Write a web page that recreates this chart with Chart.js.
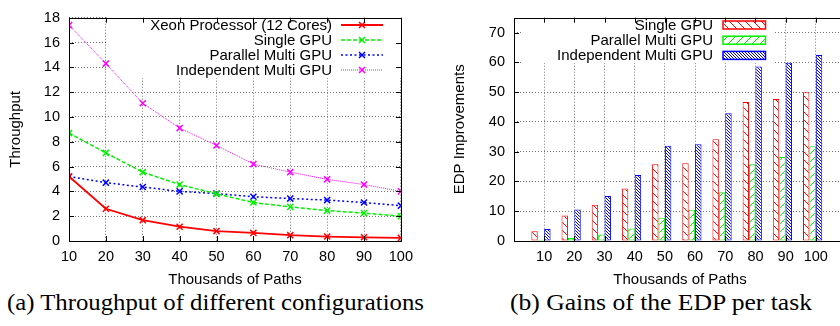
<!DOCTYPE html>
<html><head><meta charset="utf-8">
<script src="https://cdn.jsdelivr.net/npm/chart.js@4/dist/chart.umd.min.js"></script>
<style>
html,body{margin:0;padding:0;background:#fff;overflow:hidden;width:840px;height:326px;}
#wrap{position:relative;width:840px;height:326px;overflow:hidden;background:#fff;}
canvas{position:absolute;top:0;}
#c1{left:0;width:420px;height:290px;}
#c2{left:420px;width:432px;height:290px;}
.cap{position:absolute;top:291px;font-family:"Liberation Serif",serif;font-size:23px;line-height:23px;white-space:nowrap;color:#000;transform-origin:0 0;display:inline-block;}
</style></head><body>
<div id="wrap">
<canvas id="c1" width="420" height="290"></canvas>
<canvas id="c2" width="432" height="290"></canvas>
<div class="cap" id="capA" data-w="417" style="left:7px">(a) Throughput of different configurations</div>
<div class="cap" id="capB" data-w="302" style="left:510px">(b) Gains of the EDP per task</div>
</div>
<script>
// ---- data ----
const paths = [10, 20, 30, 40, 50, 60, 70, 80, 90, 100];
const xeonThroughput = [5.2, 2.6, 1.68, 1.15, 0.8, 0.65, 0.47, 0.36, 0.3, 0.25];
const singleGpuThroughput = [8.7, 7.1, 5.55, 4.55, 3.8, 3.1, 2.75, 2.45, 2.25, 2.0];
const parallelMultiThroughput = [5.2, 4.7, 4.35, 4.0, 3.82, 3.57, 3.42, 3.3, 3.1, 2.85];
const independentMultiThroughput = [17.4, 14.3, 11.1, 9.1, 7.7, 6.2, 5.55, 4.97, 4.55, 4.0];

const edpSingleGpu = [3.3, 8.6, 12.2, 17.6, 25.8, 26.1, 34.2, 46.7, 47.7, 50.0];
const edpParallelMulti = [0.4, 1.0, 2.2, 4.2, 7.8, 10.5, 16.4, 25.8, 28.2, 31.8];
const edpIndependentMulti = [4.0, 10.6, 15.1, 22.2, 32.0, 32.5, 42.9, 58.6, 59.9, 62.5];

const yTicksA = [0, 2, 4, 6, 8, 10, 12, 14, 16, 18];
const yTicksB = [0, 10, 20, 30, 40, 50, 60, 70];

const labelsA = ['Xeon Processor (12 Cores)', 'Single GPU', 'Parallel Multi GPU', 'Independent Multi GPU'];
const labelsB = ['Single GPU', 'Parallel Multi GPU', 'Independent Multi GPU'];
const xTitle = 'Thousands of Paths';
const yTitleA = 'Throughput';
const yTitleB = 'EDP Improvements';

// ---- helpers ----
const FONT = '"Liberation Sans", Arial, sans-serif';
const GRID_COLOR = 'rgba(0,0,0,0.55)';
const toXY = (xs, ys) => xs.map((x, i) => ({x: x, y: ys[i]}));
const setTicks = arr => s => { s.ticks = arr.map(v => ({value: v})); };

function hatch(color, spacing, dir) {
  const c = document.createElement('canvas');
  c.width = spacing; c.height = spacing;
  const g = c.getContext('2d');
  g.fillStyle = '#fff'; g.fillRect(0, 0, spacing, spacing);
  g.strokeStyle = color; g.lineWidth = 1;
  g.beginPath();
  for (let k = -1; k <= 1; k++) {
    if (dir === '\\') { g.moveTo(k * spacing, 0); g.lineTo(k * spacing + spacing, spacing); }
    else { g.moveTo(k * spacing, spacing); g.lineTo(k * spacing + spacing, 0); }
  }
  g.stroke();
  return g.createPattern(c, 'repeat');
}

const framePlugin = {
  id: 'frame',
  afterDatasetsDraw(chart, args, opts) {
    const {ctx, chartArea: a} = chart;
    const L = opts.tick || 5;
    ctx.save();
    ctx.strokeStyle = '#000'; ctx.lineWidth = 1; ctx.setLineDash([]);
    ctx.beginPath();
    const xs = chart.scales.x, ys = chart.scales.y;
    xs.ticks.forEach(t => {
      if (t.label === null || t.label === undefined || t.label === '') return;
      const px = Math.round(xs.getPixelForValue(t.value)) + 0.5;
      ctx.moveTo(px, a.bottom); ctx.lineTo(px, a.bottom - L);
      ctx.moveTo(px, a.top); ctx.lineTo(px, a.top + L);
    });
    ys.ticks.forEach(t => {
      if (t.label === null || t.label === undefined || t.label === '') return;
      const py = Math.round(ys.getPixelForValue(t.value)) + 0.5;
      ctx.moveTo(a.left, py); ctx.lineTo(a.left + L, py);
      ctx.moveTo(a.right, py); ctx.lineTo(a.right - L, py);
    });
    ctx.stroke();
    ctx.strokeRect(Math.round(a.left) + 0.5, Math.round(a.top) + 0.5,
                   Math.round(a.right - a.left), Math.round(a.bottom - a.top));
    ctx.restore();
  }
};

const gpLegendPlugin = {
  id: 'gpLegend',
  beforeDatasetsDraw(chart, args, o) {
    if (!o || !o.rows) return;
    const ctx = chart.ctx;
    ctx.save();
    ctx.fillStyle = '#fff';
    ctx.fillRect(o.box[0], o.box[1], o.box[2] - o.box[0], o.box[3] - o.box[1]);
    ctx.font = '15px ' + FONT;
    ctx.textAlign = 'right'; ctx.textBaseline = 'middle';
    const dsList = chart.data.datasets.filter(d => d.label);
    dsList.forEach((ds, i) => {
      const y = o.rows[i];
      ctx.fillStyle = '#000';
      ctx.fillText(ds.label, o.textRight, y + 0.5);
      if (o.kind === 'line') {
        ctx.strokeStyle = ds.borderColor; ctx.lineWidth = ds.borderWidth;
        ctx.setLineDash(ds.borderDash || []);
        ctx.beginPath(); ctx.moveTo(o.s0, y); ctx.lineTo(o.s1, y); ctx.stroke();
        ctx.setLineDash([]);
        const m = (o.s0 + o.s1) / 2, r = 3;
        ctx.lineWidth = 1.5;
        ctx.beginPath();
        ctx.moveTo(m - r, y - r); ctx.lineTo(m + r, y + r);
        ctx.moveTo(m - r, y + r); ctx.lineTo(m + r, y - r);
        ctx.stroke();
      } else {
        ctx.fillStyle = ds.backgroundColor;
        ctx.fillRect(o.s0, y - 4, o.s1 - o.s0, 8);
        ctx.strokeStyle = ds.borderColor; ctx.lineWidth = 1.5;
        ctx.strokeRect(o.s0, y - 4, o.s1 - o.s0, 8);
      }
    });
    ctx.restore();
  }
};

Chart.defaults.font.family = FONT;
Chart.defaults.color = '#000';

function lineDs(label, vals, color, width, dash) {
  return {
    label: label, data: toXY(paths, vals), borderColor: color, backgroundColor: color,
    borderWidth: width, borderDash: dash, pointStyle: 'crossRot', pointRadius: 4.3,
    pointBorderWidth: 1.5, pointBorderColor: color, fill: false, tension: 0
  };
}

// ---- chart (a) ----
new Chart(document.getElementById('c1'), {
  type: 'line',
  data: {
    datasets: [
      lineDs(labelsA[0], xeonThroughput, '#ff0000', 1.8, []),
      lineDs(labelsA[1], singleGpuThroughput, '#00f000', 1.5, [4, 2]),
      lineDs(labelsA[2], parallelMultiThroughput, '#0000ff', 1.5, [2, 2.5]),
      lineDs(labelsA[3], independentMultiThroughput, '#ff00ff', 1, [1, 1])
    ]
  },
  options: {
    responsive: false, animation: false, devicePixelRatio: 1,
    layout: {padding: {top: 12, right: 19, left: 0, bottom: 0}},
    plugins: {
      legend: {display: false}, tooltip: {enabled: false},
      gpLegend: {kind: 'line', box: [106, 12, 401, 78], textRight: 332, s0: 341, s1: 383, rows: [25, 40, 55, 70]},
      frame: {tick: 5}
    },
    scales: {
      x: {
        type: 'linear', min: 10, max: 100,
        ticks: {stepSize: 10, padding: 7, font: {size: 14.5}, color: '#000', maxRotation: 0},
        grid: {color: GRID_COLOR, lineWidth: 1, drawTicks: false},
        border: {display: false, dash: [1, 2]},
        title: {display: true, text: xTitle, font: {size: 15}, padding: {top: 0, bottom: 1.5}, color: '#000'},
        afterFit: s => { s.height = 49; }
      },
      y: {
        min: 0, max: 18,
        afterBuildTicks: setTicks(yTicksA),
        ticks: {padding: 9, font: {size: 14.5}, color: '#000'},
        grid: {color: GRID_COLOR, lineWidth: 1, drawTicks: false},
        border: {display: false, dash: [1, 2]},
        title: {display: true, text: yTitleA, font: {size: 15}, padding: {top: 7, bottom: 0}, color: '#000'},
        afterFit: s => { s.width = 69; }
      }
    }
  },
  plugins: [gpLegendPlugin, framePlugin]
});

// ---- chart (b) ----
function barDs(label, vals, color, pattern) {
  return {
    label: label, data: toXY(paths, vals), borderColor: color, backgroundColor: pattern,
    borderWidth: 1, categoryPercentage: 0.85, barPercentage: 1, borderSkipped: false
  };
}
new Chart(document.getElementById('c2'), {
  type: 'bar',
  data: {
    datasets: [
      barDs(labelsB[0], edpSingleGpu, '#ff0000', hatch('#ff0000', 8, '\\')),
      barDs(labelsB[1], edpParallelMulti, '#00f000', hatch('#00f000', 8, '/')),
      barDs(labelsB[2], edpIndependentMulti, '#0000ff', hatch('#0000ff', 3, '\\')),
      {label: '', data: [], categoryPercentage: 0.85, barPercentage: 1}
    ]
  },
  options: {
    responsive: false, animation: false, devicePixelRatio: 1,
    layout: {padding: {top: 12, right: 6, left: 0, bottom: 0}},
    plugins: {
      legend: {display: false}, tooltip: {enabled: false},
      gpLegend: {kind: 'bar', box: [103, 12, 353, 63], textRight: 293, s0: 303, s1: 345.5, rows: [25, 40.2, 55.4]},
      frame: {tick: 5}
    },
    scales: {
      x: {
        type: 'linear', min: 0, max: 110, offset: false,
        ticks: {stepSize: 10, padding: 7, font: {size: 14.5}, color: '#000', maxRotation: 0,
                callback: v => (v >= 10 && v <= 100) ? String(v) : null},
        grid: {color: GRID_COLOR, lineWidth: 1, drawTicks: false, offset: false},
        border: {display: false, dash: [1, 2]},
        title: {display: true, text: xTitle, font: {size: 15}, padding: {top: 0, bottom: 1.5}, color: '#000'},
        afterFit: s => { s.height = 49; }
      },
      y: {
        min: 0, max: 75,
        afterBuildTicks: setTicks(yTicksB),
        ticks: {padding: 9, font: {size: 14.5}, color: '#000'},
        grid: {color: GRID_COLOR, lineWidth: 1, drawTicks: false},
        border: {display: false, dash: [1, 2]},
        title: {display: true, text: yTitleB, font: {size: 15}, padding: {top: 31, bottom: 0}, color: '#000'},
        afterFit: s => { s.width = 94; }
      }
    }
  },
  plugins: [gpLegendPlugin, framePlugin]
});

// ---- captions fitted to width ----
document.querySelectorAll('.cap').forEach(el => {
  const w = el.getBoundingClientRect().width;
  const target = parseFloat(el.dataset.w);
  el.style.transform = 'scaleX(' + (target / w) + ')';
});
</script>
</body></html>
